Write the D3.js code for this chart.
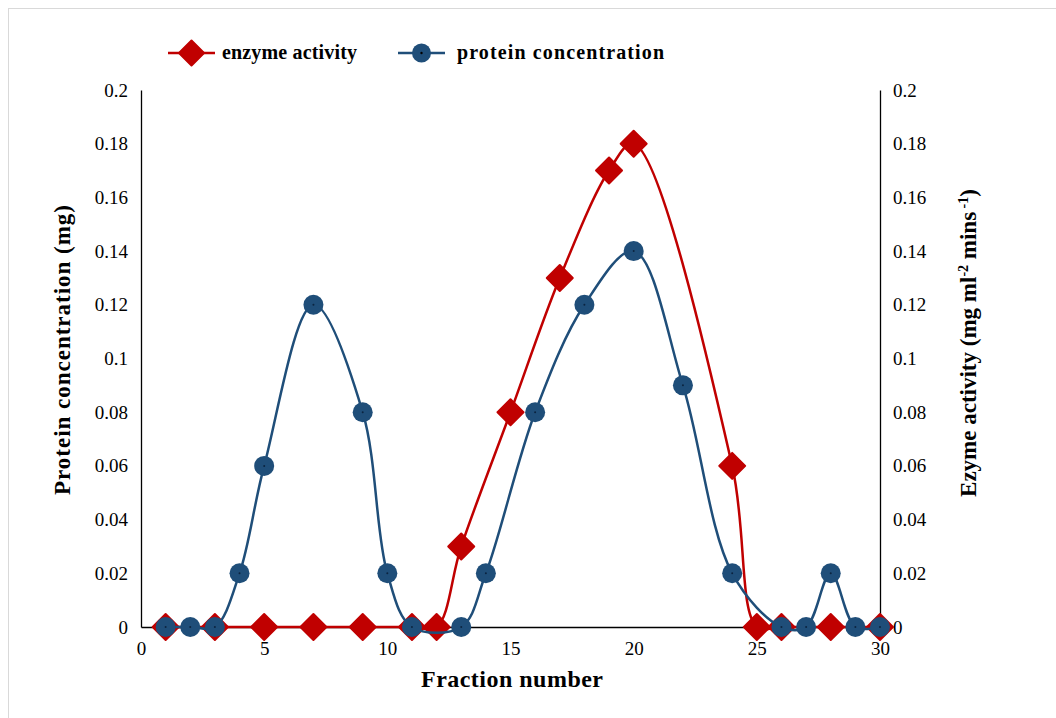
<!DOCTYPE html>
<html>
<head>
<meta charset="utf-8">
<script src="https://cdn.jsdelivr.net/npm/d3@7"></script>
<style>
  html, body { margin: 0; padding: 0; background: #fff; }
  svg { display: block; }
</style>
</head>
<body>
<div id="chart"></div>
<script>
(function () {
  'use strict';

  // --- Data ---
  var proteinX = [1, 2, 3, 4, 5, 7, 9, 10, 11, 13, 14, 16, 18, 20, 22, 24, 26, 27, 28, 29, 30];
  var proteinY = [0, 0, 0, 0.02, 0.06, 0.12, 0.08, 0.02, 0, 0, 0.02, 0.08, 0.12, 0.14, 0.09, 0.02, 0, 0, 0.02, 0, 0];

  var enzymeX = [1, 3, 5, 7, 9, 11, 12, 13, 15, 17, 19, 20, 24, 25, 26, 28, 30];
  var enzymeY = [0, 0, 0, 0, 0, 0, 0, 0.03, 0.08, 0.13, 0.17, 0.18, 0.06, 0, 0, 0, 0];

  var xTicks = [0, 5, 10, 15, 20, 25, 30];
  var yTicks = [0, 0.02, 0.04, 0.06, 0.08, 0.1, 0.12, 0.14, 0.16, 0.18, 0.2];

  var legendLabels = ['enzyme activity', 'protein concentration'];

  // --- Colors ---
  var red = '#C00000';
  var blue = '#1F4E79';
  var font = '"Liberation Serif", "Times New Roman", serif';

  var width = 1056, height = 718;
  var plot = { left: 141, right: 880, top: 90, bottom: 627 };

  var svg = d3.select('#chart').append('svg')
    .attr('width', width)
    .attr('height', height);

  // chart frame
  svg.append('rect')
    .attr('x', 8.5).attr('y', 8.5)
    .attr('width', 1100).attr('height', 800)
    .attr('fill', 'none')
    .attr('stroke', '#d9d9d9');

  var x = d3.scaleLinear().domain([0, 30]).range([plot.left, plot.right]);
  var yL = d3.scaleLinear().domain([0, 0.2]).range([plot.bottom, plot.top]);
  var yR = d3.scaleLinear().domain([0, 0.2]).range([plot.bottom, plot.top]);

  // --- Axes ---
  var fmt = function (d) { return +d.toFixed(2); };

  var xAxis = svg.append('g')
    .attr('transform', 'translate(0,' + plot.bottom + ')')
    .call(d3.axisBottom(x).tickValues(xTicks).tickSize(0).tickPadding(15).tickFormat(d3.format('d')));

  var leftAxis = svg.append('g')
    .attr('transform', 'translate(' + plot.left + ',0)')
    .call(d3.axisLeft(yL).tickValues(yTicks).tickSize(0).tickPadding(13).tickFormat(fmt));

  var rightAxis = svg.append('g')
    .attr('transform', 'translate(' + plot.right + ',0)')
    .call(d3.axisRight(yR).tickValues(yTicks).tickSize(0).tickPadding(13).tickFormat(fmt));

  [xAxis, leftAxis, rightAxis].forEach(function (g) {
    g.select('.domain').attr('stroke', '#000').attr('stroke-width', 1.3);
    g.selectAll('text')
      .attr('font-family', font)
      .attr('font-size', '19px')
      .attr('fill', '#000');
  });

  // --- Axis titles ---
  svg.append('text')
    .attr('x', 512)
    .attr('y', 687)
    .attr('text-anchor', 'middle')
    .attr('font-family', font)
    .attr('font-size', '24px')
    .attr('font-weight', 'bold')
    .attr('textLength', 182)
    .text('Fraction number');

  svg.append('text')
    .attr('transform', 'translate(70,350) rotate(-90)')
    .attr('text-anchor', 'middle')
    .attr('font-family', font)
    .attr('font-size', '23px')
    .attr('font-weight', 'bold')
    .attr('textLength', 290)
    .text('Protein concentration (mg)');

  var rt = svg.append('text')
    .attr('transform', 'translate(976,343) rotate(-90)')
    .attr('text-anchor', 'middle')
    .attr('font-family', font)
    .attr('font-size', '23px')
    .attr('font-weight', 'bold');
  rt.append('tspan').text('Ezyme  activity (mg ml');
  rt.append('tspan').attr('font-size', '14px').attr('dy', '-8').text('-2');
  rt.append('tspan').attr('dy', '8').text(' mins');
  rt.append('tspan').attr('font-size', '14px').attr('dy', '-8').text(' -1');
  rt.append('tspan').attr('dy', '8').text(')');

  // --- Series ---
  var enzyme = enzymeX.map(function (d, i) { return [d, enzymeY[i]]; });
  var protein = proteinX.map(function (d, i) { return [d, proteinY[i]]; });

  var lineR = d3.line()
    .x(function (d) { return x(d[0]); })
    .y(function (d) { return yR(d[1]); })
    .curve(d3.curveCatmullRom.alpha(0.5));

  var lineL = d3.line()
    .x(function (d) { return x(d[0]); })
    .y(function (d) { return yL(d[1]); })
    .curve(d3.curveCatmullRom.alpha(0.5));

  var diamond = function (s) {
    return 'M0,' + (-s) + 'L' + s + ',0L0,' + s + 'L' + (-s) + ',0Z';
  };

  // enzyme activity (secondary axis)
  svg.append('path')
    .datum(enzyme)
    .attr('d', lineR)
    .attr('fill', 'none')
    .attr('stroke', red)
    .attr('stroke-width', 2.5);

  svg.append('g').selectAll('path')
    .data(enzyme)
    .join('path')
    .attr('transform', function (d) { return 'translate(' + x(d[0]) + ',' + yR(d[1]) + ')'; })
    .attr('d', diamond(13))
    .attr('fill', red)
    .attr('stroke', red)
    .attr('stroke-width', 2)
    .attr('stroke-linejoin', 'round');

  // protein concentration (primary axis)
  svg.append('path')
    .datum(protein)
    .attr('d', lineL)
    .attr('fill', 'none')
    .attr('stroke', blue)
    .attr('stroke-width', 2.5);

  var pts = svg.append('g').selectAll('g')
    .data(protein)
    .join('g')
    .attr('transform', function (d) { return 'translate(' + x(d[0]) + ',' + yL(d[1]) + ')'; });
  pts.append('circle').attr('r', 10).attr('fill', blue);
  pts.append('circle').attr('r', 1).attr('fill', '#0b2440');

  // --- Legend ---
  var legend = svg.append('g');
  var items = [
    { label: legendLabels[0], color: red, x0: 168, tx: 54, len: 135, type: 'diamond' },
    { label: legendLabels[1], color: blue, x0: 398, tx: 59, len: 207, type: 'circle' }
  ];
  items.forEach(function (it) {
    var g = legend.append('g').attr('transform', 'translate(' + it.x0 + ',53)');
    g.append('line').attr('x1', 0).attr('x2', 47)
      .attr('stroke', it.color).attr('stroke-width', 2.5);
    if (it.type === 'diamond') {
      g.append('path').attr('transform', 'translate(23.5,0)')
        .attr('d', diamond(12.5)).attr('fill', it.color)
        .attr('stroke', it.color).attr('stroke-width', 2).attr('stroke-linejoin', 'round');
    } else {
      g.append('circle').attr('cx', 23.5).attr('r', 9.5).attr('fill', it.color);
      g.append('circle').attr('cx', 23.5).attr('r', 1.2).attr('fill', '#000');
    }
    g.append('text')
      .attr('x', it.tx)
      .attr('y', 6)
      .attr('font-family', font)
      .attr('font-size', '20px')
      .attr('font-weight', 'bold')
      .attr('textLength', it.len)
      .text(it.label);
  });
})();
</script>
</body>
</html>
